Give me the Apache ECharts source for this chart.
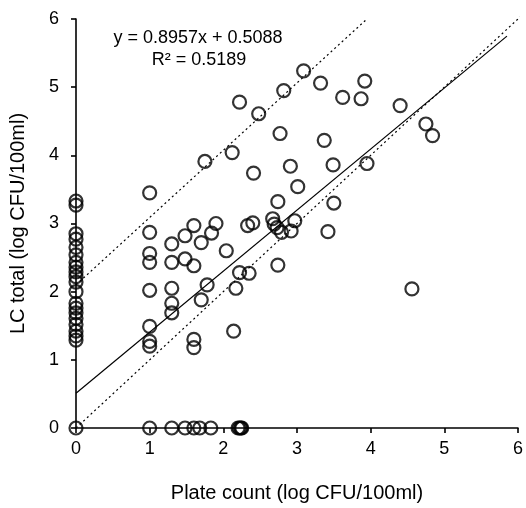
<!DOCTYPE html>
<html>
<head>
<meta charset="utf-8">
<script src="https://cdn.jsdelivr.net/npm/echarts@6/dist/echarts.min.js"></script>
<style>html,body{margin:0;padding:0;background:#fff}#c{width:526px;height:508px}</style>
</head>
<body>
<div id="c"></div>
<script>
// Data (x = plate count, y = LC total)
const pointsX0 = [0, 1.29, 1.35, 1.42, 1.52, 1.61, 1.69, 1.76, 1.83, 2.0, 2.14, 2.22, 2.29, 2.36, 2.43, 2.54, 2.65, 2.77, 2.85, 3.27, 3.33];
const pointsY0 = [1.0, 1.3, 1.48, 1.6, 1.68, 1.83, 2.2, 2.22, 2.24, 2.25];
const otherX = [1.0,1.0,1.0,1.0,1.0,1.0,1.0,1.0, 1.30,1.30,1.30,1.30,1.30, 1.48,1.48, 1.60,1.60,1.60,1.60, 1.70,1.70,1.78, 1.75,1.84,1.90, 2.04,2.12,2.14,2.17,2.22,2.35,2.22, 2.33,2.40,2.41,2.48, 2.67,2.69,2.73,2.79,2.74,2.74,2.77,2.82, 2.91,2.92,2.97,3.01,3.09, 3.32,3.37,3.42,3.49,3.50,3.62,3.87,3.92,3.95, 4.40,4.56,4.75,4.84];
const otherY = [3.45,2.87,2.56,2.43,2.02,1.49,1.27,1.20, 2.70,2.43,2.05,1.83,1.69, 2.82,2.48, 2.97,2.38,1.30,1.18, 2.72,1.88,2.10, 3.91,2.86,3.00, 2.60,4.04,1.42,2.05,2.28,2.27,4.78, 2.97,3.01,3.74,4.61, 3.07,2.99,2.94,2.87,3.32,2.39,4.32,4.95, 3.84,2.89,3.04,3.54,5.24, 5.06,4.22,2.88,3.86,3.30,4.85,4.83,5.09,3.88, 4.73,2.04,4.46,4.29];
const fitSlope = 0.8957, fitIntercept = 0.5088, fitRange = [0, 5.85];
const upperLine = [[0, 2.1], [3.95, 6.0]];
const identityLine = [[0, 0], [6.03, 6.03]];

const scatterData = [];
pointsX0.forEach(y => scatterData.push([0, y]));
pointsY0.forEach(x => scatterData.push([x, 0]));
otherX.forEach((x, i) => scatterData.push([x, otherY[i]]));
const fitLine = fitRange.map(x => [x, fitSlope * x + fitIntercept]);

const font = '"Liberation Sans", Arial, sans-serif';
const chart = echarts.init(document.getElementById('c'), null, {renderer: 'canvas'});
const axisCommon = {
  type: 'value', min: 0, max: 6, interval: 1,
  axisLine: {show: true, lineStyle: {color: '#000', width: 1.6}},
  axisTick: {show: true, inside: false, length: 5, lineStyle: {color: '#000', width: 1.6}},
  splitLine: {show: false},
  axisLabel: {color: '#000', fontSize: 18, fontFamily: font, formatter: v => String(v)},
  nameLocation: 'middle',
  nameTextStyle: {color: '#000', fontSize: 20, fontFamily: font}
};
chart.setOption({
  animation: false,
  backgroundColor: '#fff',
  grid: {left: 70, right: 6, top: 19, bottom: 75, containLabel: false},
  xAxis: Object.assign({}, axisCommon, {name: 'Plate count (log CFU/100ml)', nameGap: 55, axisLabel: Object.assign({}, axisCommon.axisLabel, {margin: 12})}),
  yAxis: Object.assign({}, axisCommon, {name: 'LC total (log CFU/100ml)', nameGap: 48, axisLabel: Object.assign({}, axisCommon.axisLabel, {margin: 17})}),
  graphic: [
    {type: 'text', x: 198, y: 38, style: {text: 'y = 0.8957x + 0.5088', fontSize: 18, fontFamily: font, fill: '#000', align: 'center', verticalAlign: 'middle', textAlign: 'center', textVerticalAlign: 'middle'}},
    {type: 'text', x: 199, y: 60, style: {text: 'R² = 0.5189', fontSize: 18, fontFamily: font, fill: '#000', align: 'center', verticalAlign: 'middle', textAlign: 'center', textVerticalAlign: 'middle'}}
  ],
  series: [
    {type: 'line', data: fitLine, symbol: 'none', clip: false, lineStyle: {color: '#000', width: 1.2}, z: 3},
    {type: 'line', data: upperLine, symbol: 'none', clip: false, lineStyle: {color: '#000', width: 1.2, type: [2, 3]}, z: 3},
    {type: 'line', data: identityLine, symbol: 'none', clip: false, lineStyle: {color: '#000', width: 1.2, type: [2, 3]}, z: 3},
    {type: 'scatter', data: scatterData, symbol: 'circle', symbolSize: 13, clip: false,
     itemStyle: {color: 'rgba(0,0,0,0)', borderColor: '#000', borderWidth: 2.2}, z: 4}
  ]
});
</script>
</body>
</html>
